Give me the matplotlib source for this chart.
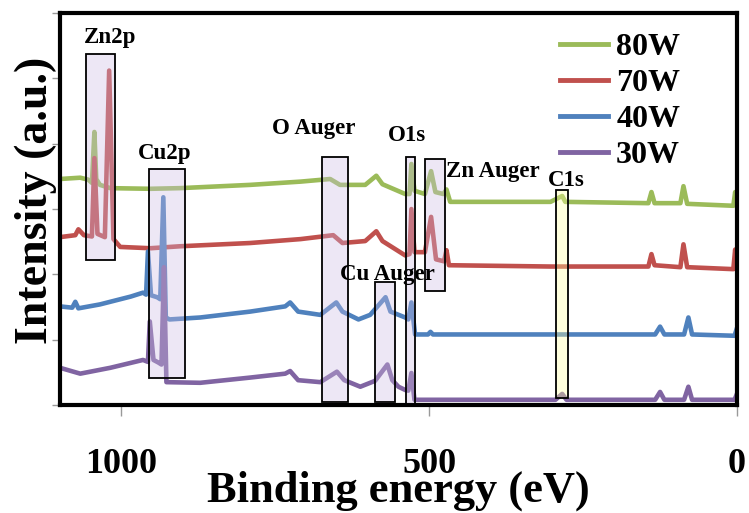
import matplotlib
matplotlib.use("Agg")
import matplotlib.pyplot as plt
from matplotlib.patches import Rectangle
from matplotlib.lines import Line2D

# ---- survey spectra (binding energy in eV, offset intensity in a.u.) ----
energy_80w = [1100, 1067, 1054, 1048, 1044, 1041, 1035, 1018, 953, 905, 791, 709,
              661, 645, 604, 586, 576, 539, 532, 529, 524, 507, 497, 490, 477, 472,
              466, 303, 284, 279, 144, 139, 134, 92, 87, 81, 6, 3, 0]
intens_80w = [3.46, 3.48, 3.45, 3.40, 4.18, 3.46, 3.37, 3.32, 3.31, 3.32, 3.37, 3.42,
              3.46, 3.37, 3.37, 3.51, 3.38, 3.23, 3.23, 3.69, 3.28, 3.23, 3.58, 3.26, 3.23, 3.30,
              3.11, 3.11, 3.20, 3.11, 3.09, 3.26, 3.09, 3.09, 3.35, 3.08, 3.05, 3.26, 3.05]

energy_70w = [1100, 1075, 1070, 1061, 1048, 1044, 1039, 1027, 1020, 1013, 1002, 953,
              905, 791, 709, 656, 641, 604, 586, 576, 539, 532, 529, 524, 507, 497,
              489, 476, 472, 468, 303, 144, 139, 134, 92, 87, 81, 6, 3, 0]
intens_70w = [2.57, 2.60, 2.69, 2.60, 2.58, 3.78, 2.62, 2.57, 5.12, 2.54, 2.42, 2.40,
              2.43, 2.48, 2.54, 2.60, 2.48, 2.51, 2.66, 2.51, 2.29, 2.31, 3.00, 2.34, 2.34, 2.88,
              2.23, 2.20, 2.37, 2.14, 2.12, 2.12, 2.31, 2.14, 2.11, 2.46, 2.11, 2.08, 2.38, 2.08]

energy_40w = [1100, 1080, 1075, 1070, 1035, 985, 965, 960, 957, 952, 942, 937, 932,
              928, 922, 872, 791, 734, 726, 713, 677, 651, 641, 615, 596, 571, 563,
              539, 534, 529, 523, 502, 498, 494, 133, 125, 118, 86, 79, 73, 4, 1]
intens_40w = [1.51, 1.49, 1.58, 1.48, 1.54, 1.66, 1.72, 1.69, 2.35, 1.68, 1.65, 1.62, 3.18,
              1.34, 1.31, 1.34, 1.43, 1.51, 1.57, 1.43, 1.38, 1.57, 1.43, 1.31, 1.38, 1.65, 1.43,
              1.34, 1.31, 1.57, 1.08, 1.08, 1.12, 1.08, 1.08, 1.20, 1.08, 1.08, 1.34, 1.08, 1.06, 1.15]

energy_30w = [1100, 1067, 1018, 965, 957, 954, 948, 940, 935, 931, 927, 872, 791,
              734, 726, 713, 677, 650, 638, 612, 588, 568, 560, 550, 539, 534, 529,
              524, 295, 284, 277, 133, 125, 118, 86, 79, 73, 4, 1]
intens_30w = [0.57, 0.48, 0.57, 0.69, 0.66, 1.28, 0.69, 0.65, 0.62, 2.11, 0.35, 0.34, 0.42,
              0.48, 0.52, 0.38, 0.35, 0.51, 0.38, 0.28, 0.37, 0.62, 0.38, 0.28, 0.23, 0.22, 0.49,
              0.08, 0.08, 0.17, 0.08, 0.08, 0.20, 0.08, 0.08, 0.28, 0.08, 0.08, 0.15]

series_labels = ["80W", "70W", "40W", "30W"]
series_colors = ["#9BBB59", "#C0504D", "#4F81BD", "#8064A2"]

# ---- highlighted regions: (label, E_high, E_low, y_low, y_high) ----
regions = [
    ("Zn2p", 1057, 1010, 2.22, 5.38),
    ("Cu2p", 955, 896, 0.42, 3.62),
    ("O Auger", 674, 632, 0.05, 3.80),
    ("Cu Auger", 588, 555, 0.05, 1.89),
    ("O1s", 537, 523, 0.02, 3.80),
    ("Zn Auger", 507, 474, 1.74, 3.77),
    ("C1s", 294, 274, 0.11, 3.29),
]
# label anchor positions (energy, intensity, horizontal alignment)
region_text = {
    "Zn2p": (1018, 5.62, "center"),
    "Cu2p": (930, 3.85, "center"),
    "O Auger": (687, 4.23, "center"),
    "Cu Auger": (568, 2.00, "center"),
    "O1s": (536, 4.12, "center"),
    "Zn Auger": (472, 3.58, "left"),
    "C1s": (277, 3.43, "center"),
}

x_ticks = [1000, 500, 0]

serif = "Liberation Serif"

fig = plt.figure(figsize=(7.49, 5.13), dpi=100)
ax = fig.add_axes([0.080, 0.2105, 0.904, 0.764])

spectra = [(energy_80w, intens_80w), (energy_70w, intens_70w),
           (energy_40w, intens_40w), (energy_30w, intens_30w)]
for (e, y), lab, col in zip(spectra, series_labels, series_colors):
    ax.plot(e, y, color=col, lw=3.3, solid_joinstyle="round", zorder=2, label=lab)

for name, e_hi, e_lo, y_lo, y_hi in regions:
    face = (1.0, 1.0, 0.62, 0.35) if name == "C1s" else (0.80, 0.74, 0.89, 0.35)
    ax.add_patch(Rectangle((e_lo, y_lo), e_hi - e_lo, y_hi - y_lo,
                           facecolor=face, edgecolor="black", lw=1.3, zorder=3))
    tx, ty, ha = region_text[name]
    ax.text(tx, ty, name, ha=ha, va="center", fontsize=16.5, fontweight="bold",
            family=serif, zorder=4)

ax.set_xlim(1100, 0)
ax.set_ylim(0, 6)
ax.set_xticks(x_ticks)
ax.set_xticklabels([str(t) for t in x_ticks], fontsize=26, fontweight="bold", family=serif)
ax.set_yticks(range(0, 7))
ax.set_yticklabels([])
ax.tick_params(axis="x", direction="out", length=8, width=1, color="#999999", pad=23)
ax.tick_params(axis="y", direction="out", length=6, width=1, color="#999999")

for sp in ax.spines.values():
    sp.set_linewidth(3)
    sp.set_color("black")

ax.set_xlabel("Binding energy (eV)", fontsize=32, fontweight="bold", family=serif)
ax.xaxis.set_label_coords(0.5, -0.166)
ax.set_ylabel("Intensity (a.u.)", fontsize=33, fontweight="bold", family=serif)
ax.yaxis.set_label_coords(-0.004, 0.523)

handles = [Line2D([], [], color=c, lw=3.5) for c in series_colors]
fig.legend(handles, series_labels, loc="upper left", bbox_to_anchor=(0.748, 0.936),
           frameon=False, prop={"family": serif, "weight": "bold", "size": 23},
           handlelength=1.5, handletextpad=0.25, labelspacing=0.21,
           borderpad=0, borderaxespad=0)

fig.savefig("out.png", dpi=100)
